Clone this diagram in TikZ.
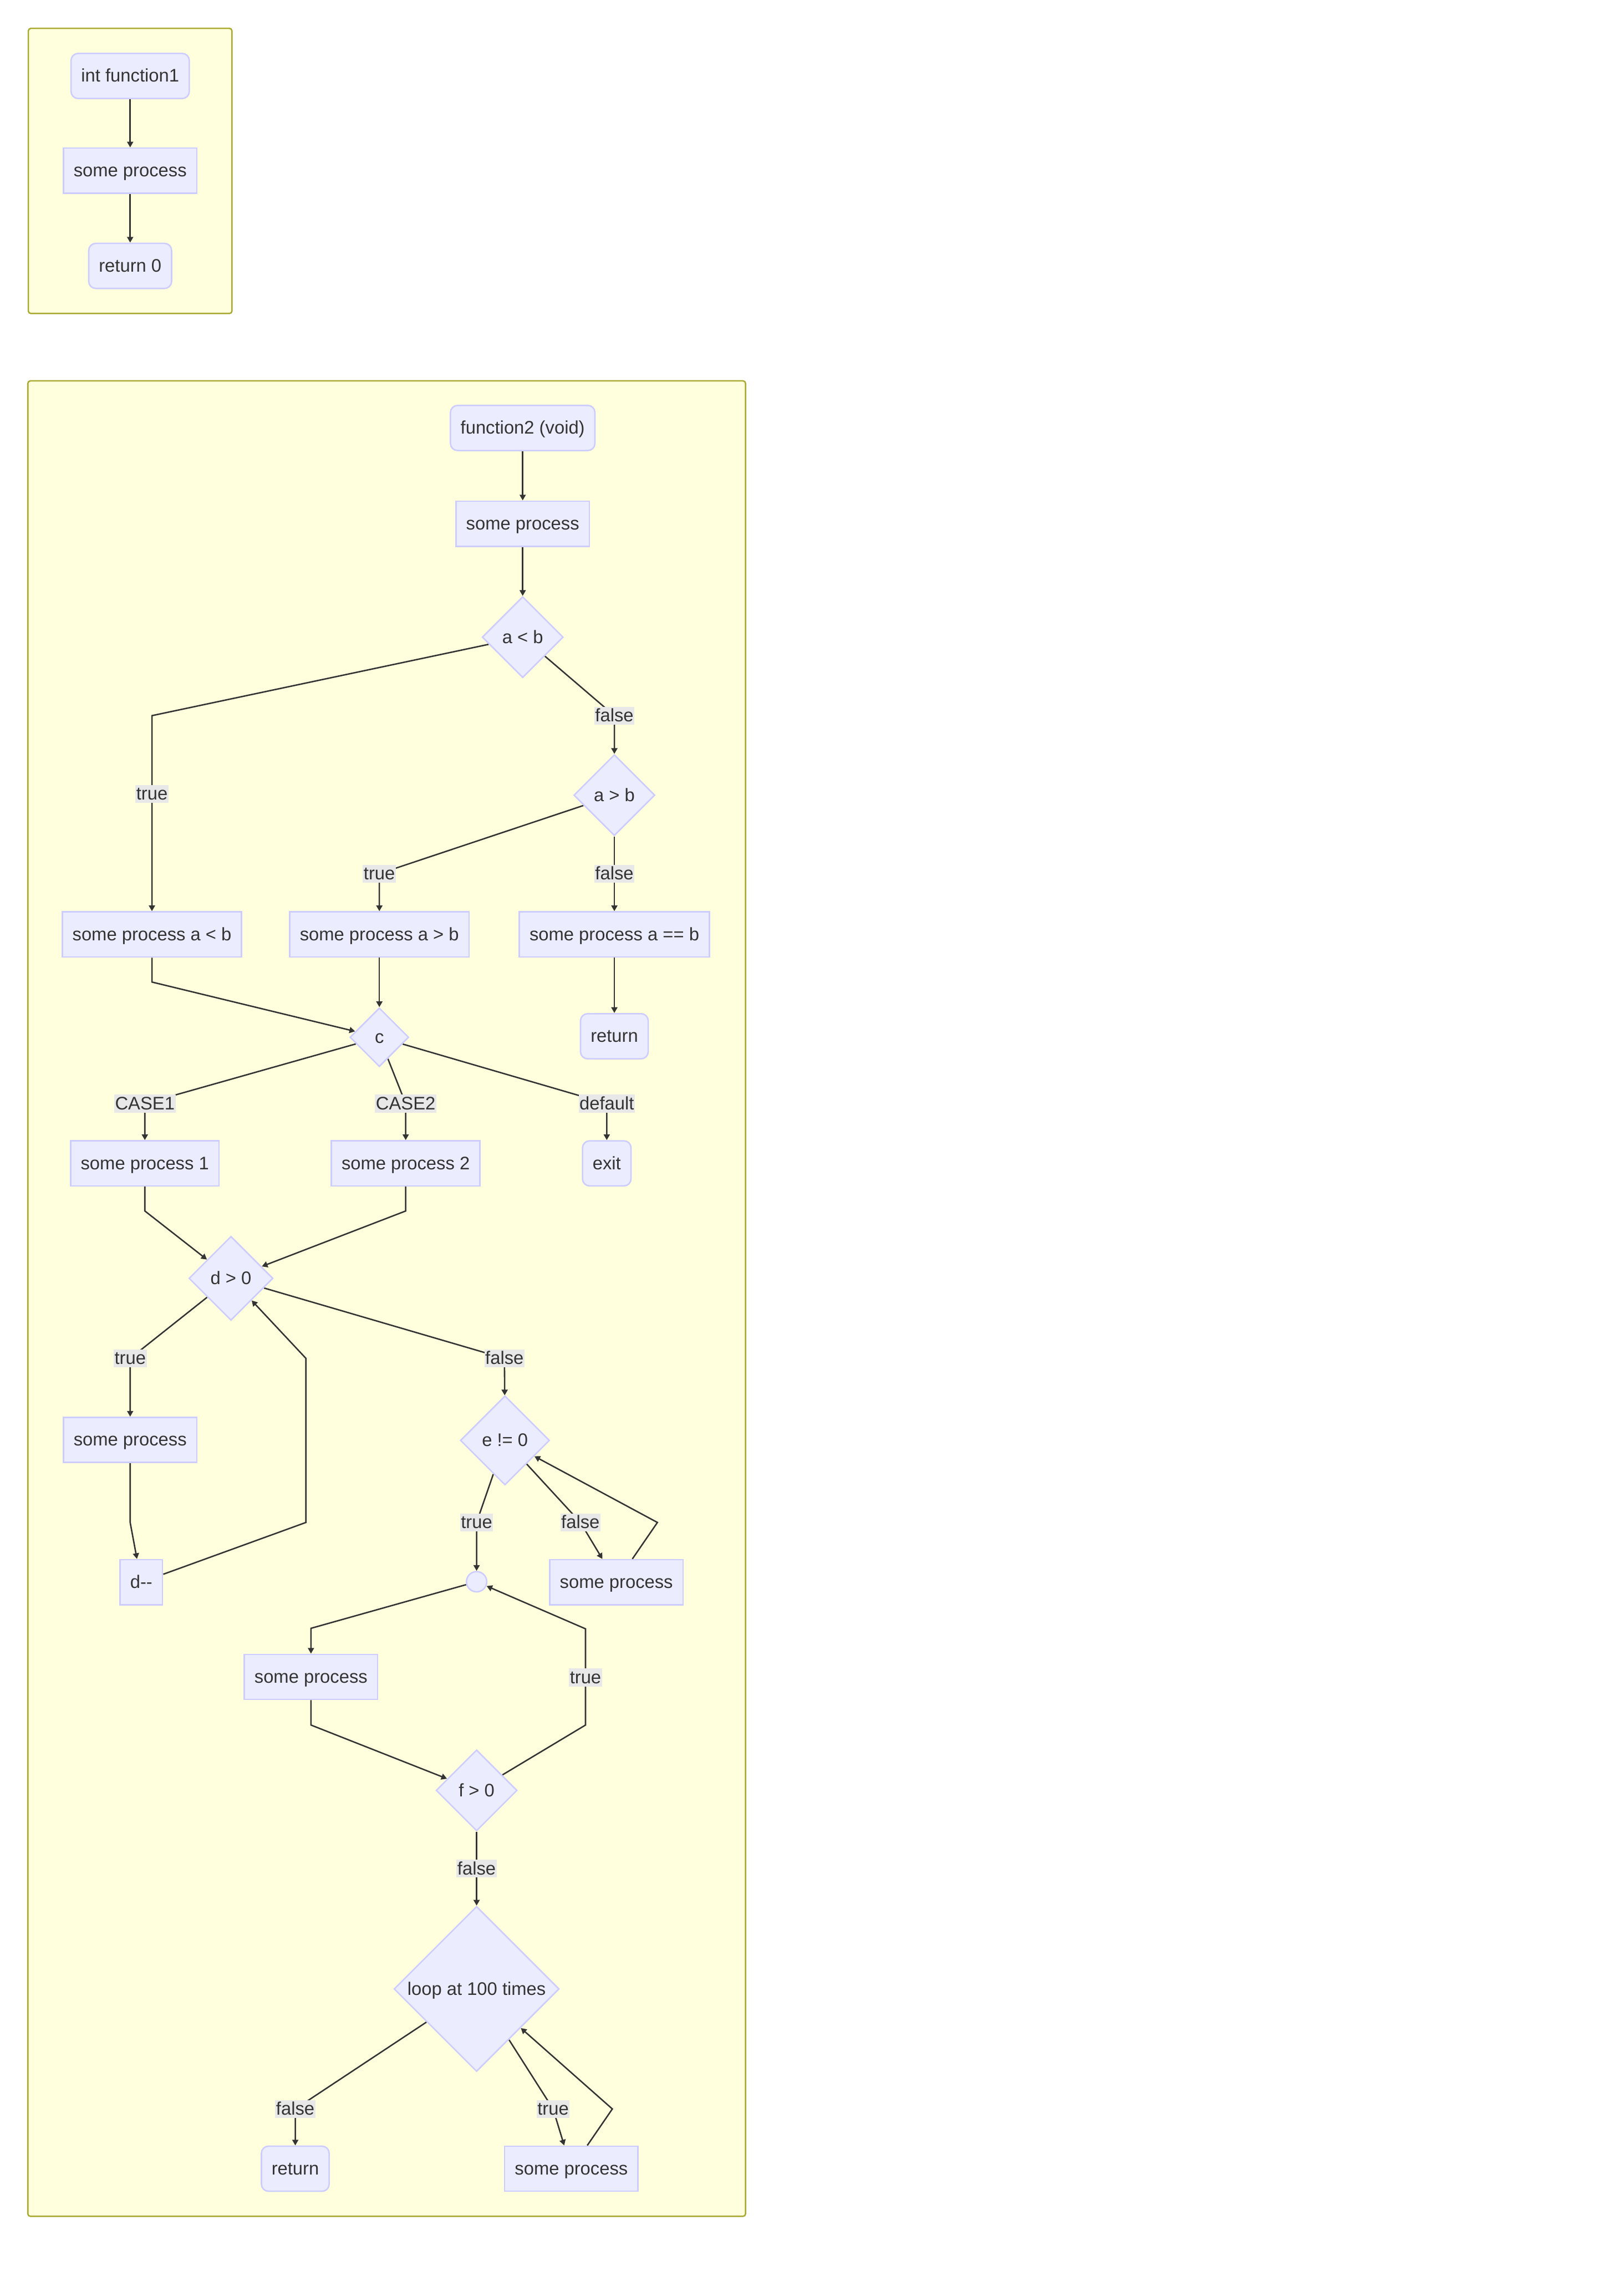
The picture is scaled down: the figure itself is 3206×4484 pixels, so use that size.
\documentclass[tikz,border=0pt]{standalone}
\usepackage{fontspec}
\setmainfont{Liberation Sans}
\usetikzlibrary{arrows.meta,shapes.geometric}
\definecolor{ClusterFill}{HTML}{FFFFDE}
\definecolor{ClusterLine}{HTML}{AAAA33}
\definecolor{NodeFill}{HTML}{ECECFF}
\definecolor{NodeLine}{HTML}{CCCCFF}
\definecolor{EdgeLine}{HTML}{333333}
\definecolor{LabelFill}{HTML}{E8E8E8}
\definecolor{TextGray}{HTML}{333333}
\pgfdeclarelayer{bg}
\pgfdeclarelayer{edges}
\pgfsetlayers{bg,edges,main}

\begin{document}
\begin{tikzpicture}[x=0.01cm,y=-0.01cm,>={Triangle[length=3.2pt,width=3.4pt]},
    font=\fontsize{10.2}{12}\selectfont,text=TextGray,
    box/.style={draw=NodeLine,fill=NodeFill,line width=0.8pt,minimum height=0.89cm,inner xsep=0.2cm,
      text height=0.32cm,text depth=0.08cm},
    rbox/.style={box,rounded corners=0.14cm},
    cond/.style={diamond,aspect=1,draw=NodeLine,fill=NodeFill,line width=0.8pt,inner sep=0pt,
      text height=0.32cm,text depth=0.08cm},
    junc/.style={circle,draw=NodeLine,fill=NodeFill,line width=0.8pt,inner sep=0pt,minimum size=0.4cm},
    flow/.style={->,draw=EdgeLine,line width=0.8pt},
    lbl/.style={fill=LabelFill,inner sep=0.5pt,text height=0.28cm,text depth=0.04cm},
    cluster/.style={draw=ClusterLine,fill=ClusterFill,line width=0.8pt,rounded corners=0.05cm}]
  \begin{pgfonlayer}{bg}
    \fill[white] (0,0) rectangle (3206,4484);
    \draw[cluster] (56,56) rectangle (458,619);
    \draw[cluster] (55,752) rectangle (1472,4376);
  \end{pgfonlayer}
  \useasboundingbox (0,0) rectangle (3206,4484);

  \node[rbox] (f1) at (257,150) {int function1};
  \node[box] (f1p) at (257,337) {some process};
  \node[rbox] (f1r) at (257,525) {return 0};

  \node[rbox] (f2) at (1032,845) {function2 (void)};
  \node[box] (f2p) at (1032,1034) {some process};
  \node[cond,minimum size=1.6cm] (ab1) at (1032,1258) {a < b};
  \node[cond,minimum size=1.6cm] (ab2) at (1213,1570) {a > b};
  \node[box] (plt) at (300,1845) {some process a < b};
  \node[box] (pgt) at (749,1845) {some process a > b};
  \node[box] (peq) at (1213,1845) {some process a == b};
  \node[rbox] (reteq) at (1213,2046) {return};
  \node[cond,minimum size=1.16cm] (c) at (749,2048) {c};
  \node[box] (p1) at (286,2297) {some process 1};
  \node[box] (p2) at (801,2297) {some process 2};
  \node[rbox] (ex) at (1198,2297) {exit};
  \node[cond,minimum size=1.66cm] (d) at (456,2524) {d > 0};
  \node[box] (dp) at (257,2843) {some process};
  \node[box] (dm) at (279,3124) {d-{}-};
  \node[cond,minimum size=1.76cm] (e) at (997,2844) {e != 0};
  \node[junc] (ej) at (941,3123) {};
  \node[box] (ep) at (1217,3124) {some process};
  \node[box] (fp) at (614,3311) {some process};
  \node[cond,minimum size=1.6cm] (f) at (941,3535) {f > 0};
  \node[cond,minimum size=3.26cm] (lp) at (941,3927) {loop at 100 times};
  \node[rbox] (ret) at (583,4282) {return};
  \node[box] (lpp) at (1128,4282) {some process};

  \begin{pgfonlayer}{edges}
    \draw[flow] (f1) -- (f1p);
    \draw[flow] (f1p) -- (f1r);
    \draw[flow] (f2) -- (f2p);
    \draw[flow] (f2p) -- (ab1);
    \draw[flow] (ab1) -- (300,1413) -- node[lbl,pos=0.4]{true} (plt);
    \draw[flow] (ab1) -- (1213,1413) node[lbl]{false} -- (ab2);
    \draw[flow] (ab2) -- (749,1725) node[lbl]{true} -- (pgt);
    \draw[flow] (ab2) -- node[lbl]{false} (peq);
    \draw[flow] (peq) -- (reteq);
    \draw[flow] (plt) -- (300,1939) -- (c);
    \draw[flow] (pgt) -- (c);
    \draw[flow] (c) -- (286,2179) node[lbl]{CASE1} -- (p1);
    \draw[flow] (c) -- (801,2179) node[lbl]{CASE2} -- (p2);
    \draw[flow] (c) -- (1198,2179) node[lbl]{default} -- (ex);
    \draw[flow] (p1) -- (286,2391) -- (d);
    \draw[flow] (p2) -- (801,2391) -- (d);
    \draw[flow] (d) -- (257,2682) node[lbl]{true} -- (dp);
    \draw[flow] (d) -- (996,2682) node[lbl]{false} -- (e);
    \draw[flow] (dp) -- (257,3006) -- (dm);
    \draw[flow] (dm) -- (604,3006) -- (604,2682) -- (d);
    \draw[flow] (e) -- (941,3006) node[lbl]{true} -- (ej);
    \draw[flow] (e) -- (1146,3006) node[lbl]{false} -- (ep);
    \draw[flow] (ep) -- (1298,3006) -- (e);
    \draw[flow] (ej) -- (614,3215) -- (fp);
    \draw[flow] (fp) -- (614,3406) -- (f);
    \draw[flow] (f) -- (1156,3406) -- (1156,3312) node[lbl]{true} -- (1156,3216) -- (ej);
    \draw[flow] (f) -- node[lbl]{false} (lp);
    \draw[flow] (lp) -- (583,4164) node[lbl]{false} -- (ret);
    \draw[flow] (lp) -- (1092,4164) node[lbl]{true} -- (lpp);
    \draw[flow] (lpp) -- (1209,4164) -- (lp);
  \end{pgfonlayer}
\end{tikzpicture}
\end{document}
